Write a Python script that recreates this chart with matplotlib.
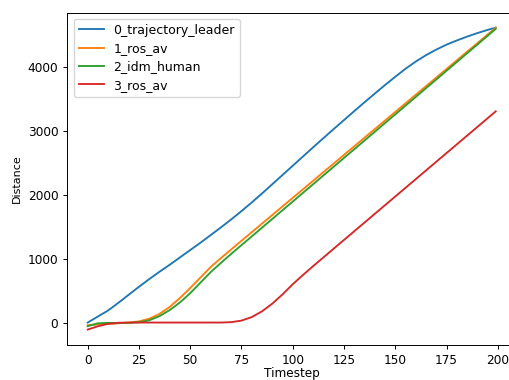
import numpy as np
from matplotlib import pyplot as plt

plt.rcParams['font.size'] = 8.7
plt.rcParams['lines.linewidth'] = 1.35
plt.rcParams['axes.linewidth'] = 0.7
plt.rcParams['xtick.major.size'] = 3
plt.rcParams['ytick.major.size'] = 3
plt.rcParams['xtick.major.width'] = 0.7
plt.rcParams['ytick.major.width'] = 0.7

# positions sampled every 5 timesteps (last sample at 199)
timesteps = np.array(list(range(0, 200, 5)) + [199])

leader = [0, 95, 190, 310, 435, 560, 680, 795, 905, 1020, 1135, 1250, 1370, 1490,
          1615, 1745, 1880, 2020, 2165, 2310, 2455, 2600, 2745, 2888, 3030, 3170, 3310,
          3448, 3584, 3718, 3848, 3973, 4086, 4186, 4273, 4351, 4416, 4476, 4531, 4581, 4617]
ros_av_1 = [-42, -30, -22, -12, -2, 18, 60, 135, 245, 385, 540, 705, 870, 1010,
            1145, 1280, 1414, 1549, 1683, 1818, 1952, 2087, 2221, 2356, 2490, 2625, 2759,
            2894, 3028, 3163, 3297, 3432, 3566, 3701, 3835, 3970, 4104, 4239, 4373, 4508, 4615]
idm_human = [-57, -12, -5, -6, -5, 5, 35, 100, 195, 315, 460, 625, 790, 935,
             1075, 1212, 1348, 1485, 1621, 1758, 1894, 2031, 2167, 2304, 2440, 2577, 2713,
             2850, 2986, 3123, 3259, 3396, 3532, 3669, 3805, 3942, 4078, 4215, 4351, 4488, 4597]
ros_av_3 = [-110, -58, -20, -4, 0, 0, 0, 0, 0, 0, 0, 0, 0, 0,
            6, 30, 85, 175, 295, 440, 600, 745, 885, 1021, 1157, 1293, 1429,
            1565, 1701, 1837, 1973, 2109, 2245, 2381, 2517, 2653, 2789, 2925, 3061, 3197, 3306]

series = {
    '0_trajectory_leader': leader,
    '1_ros_av': ros_av_1,
    '2_idm_human': idm_human,
    '3_ros_av': ros_av_3,
}

fig = plt.figure(figsize=(5.1, 3.8), dpi=100)
ax = fig.add_axes([0.132, 0.093, 0.88, 0.874])

for name, vals in series.items():
    ax.plot(timesteps, vals, label=name)

ax.set_xticks([0, 25, 50, 75, 100, 125, 150, 175, 200])
ax.set_xlabel('Timestep', labelpad=0)
ax.set_ylabel('Distance', fontsize=8)
ax.legend(loc='upper left', fontsize=9, labelspacing=0.42)

fig.savefig('out.png', dpi=100)
plt.close(fig)
